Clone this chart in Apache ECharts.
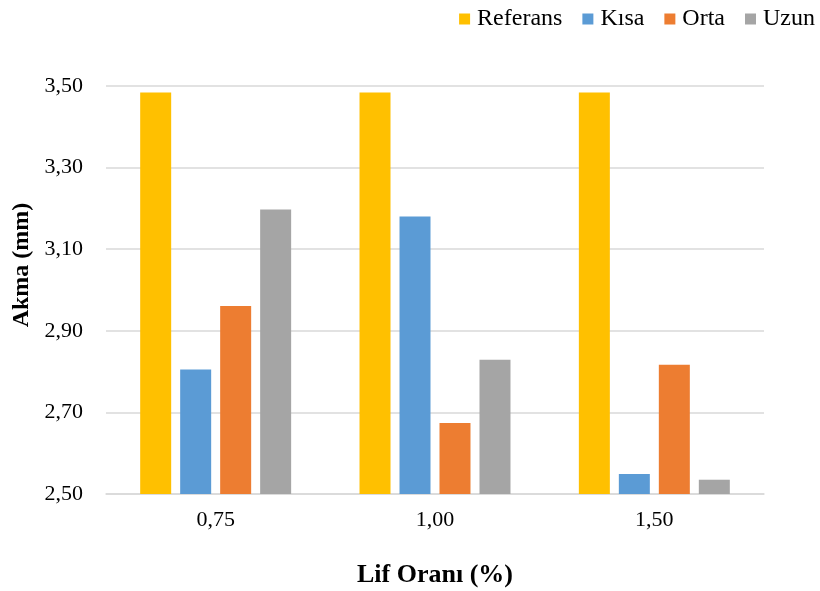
<!DOCTYPE html>
<html>
<head>
<meta charset="utf-8">
<script src="https://cdn.jsdelivr.net/npm/echarts@6/dist/echarts.min.js"></script>
<style>
  html, body { margin: 0; padding: 0; background: #fff; }
  #chart { width: 820px; height: 591px; }
</style>
</head>
<body>
<div id="chart"></div>
<script>
// Fibre ratio categories and flow values (mm) per fibre length
const categories = ['0,75', '1,00', '1,50'];
const referans = [3.484, 3.484, 3.484];
const kisa = [2.805, 3.180, 2.549];
const orta = [2.961, 2.674, 2.817];
const uzun = [3.197, 2.829, 2.535];
const yTicks = [2.5, 2.7, 2.9, 3.1, 3.3, 3.5];

const seriesNames = ['Referans', 'Kısa', 'Orta', 'Uzun'];
const seriesColors = ['#ffc000', '#5b9bd5', '#ed7d31', '#a5a5a5'];
const seriesData = [referans, kisa, orta, uzun];

const font = 'Liberation Serif, Times New Roman, serif';
const chart = echarts.init(document.getElementById('chart'));

chart.setOption({
  animation: false,
  textStyle: { fontFamily: font },
  legend: {
    top: 7,
    right: 5,
    padding: 0,
    itemWidth: 11,
    itemHeight: 11,
    itemGap: 20,
    icon: 'rect',
    textStyle: { fontFamily: font, fontSize: 24, color: '#000', padding: [0, 0, 0, 2] },
    data: seriesNames
  },
  grid: { left: 106, right: 56, top: 86, bottom: 97, outerBoundsMode: 'none', containLabel: false },
  xAxis: {
    type: 'category',
    data: categories,
    name: 'Lif Oranı (%)',
    nameLocation: 'middle',
    nameGap: 68,
    nameTextStyle: { fontFamily: font, fontSize: 26, fontWeight: 'bold', color: '#000' },
    axisLine: { lineStyle: { color: '#d9d9d9', width: 1.5 } },
    axisTick: { show: false },
    axisLabel: { fontFamily: font, fontSize: 22, color: '#000', margin: 15 }
  },
  yAxis: {
    type: 'value',
    min: yTicks[0],
    max: yTicks[yTicks.length - 1],
    interval: 0.2,
    name: 'Akma (mm)',
    nameLocation: 'middle',
    nameGap: 70,
    nameTextStyle: {
      fontFamily: font, fontSize: 24, fontWeight: 'bold', color: '#000',
      padding: [0, 0, 0, 50]
    },
    axisLine: { show: false },
    axisTick: { show: false },
    splitLine: { lineStyle: { color: '#d9d9d9', width: 1.5 } },
    axisLabel: {
      fontFamily: font, fontSize: 22, color: '#000', margin: 23,
      formatter: v => v.toFixed(2).replace('.', ',')
    }
  },
  series: seriesNames.map((name, i) => ({
    name,
    type: 'bar',
    data: seriesData[i],
    barWidth: 31,
    barGap: '29%',
    itemStyle: { color: seriesColors[i] }
  }))
});
</script>
</body>
</html>
